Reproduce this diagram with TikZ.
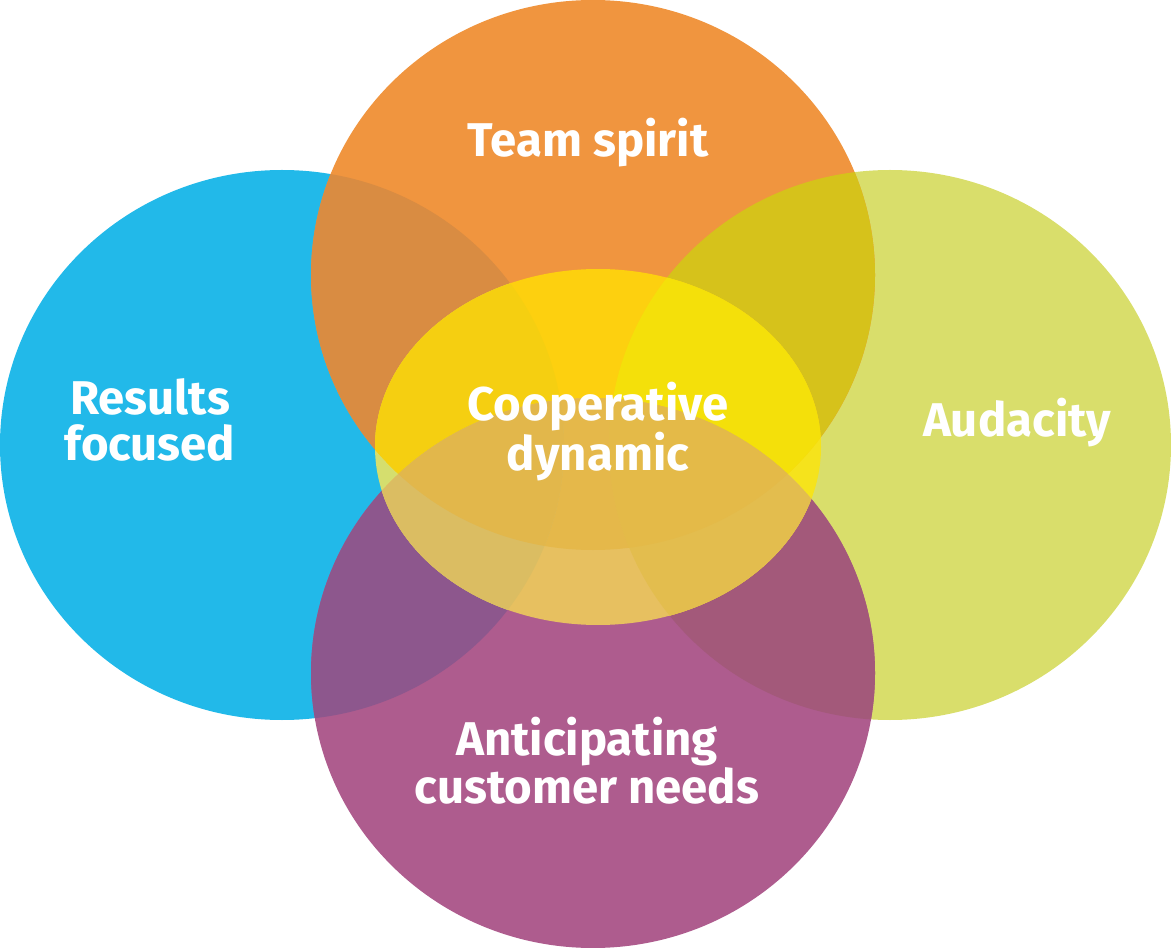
\documentclass[tikz,border=0pt]{standalone}
\usepackage{fontspec}
\setsansfont{Fira Sans}
\usepackage{xcolor}

\definecolor{resC}{HTML}{22B9E9}
\definecolor{teamC}{HTML}{F0953F}
\definecolor{audC}{HTML}{D9DE6B}
\definecolor{custC}{HTML}{AE5C8E}
\definecolor{resteamC}{HTML}{D98C42}
\definecolor{teamaudC}{HTML}{D6C21B}
\definecolor{rescustC}{HTML}{8D578D}
\definecolor{audcustC}{HTML}{A3597A}
\definecolor{coopresC}{HTML}{D5DE6E}
\definecolor{coopaudC}{HTML}{F5E31C}
\definecolor{coopteamC}{HTML}{FDD00F}
\definecolor{coopcustC}{HTML}{E7C060}
\definecolor{coopresteamC}{HTML}{F5CF11}
\definecolor{coopaudteamC}{HTML}{F4E00A}
\definecolor{coopteamcustC}{HTML}{E5B84A}
\definecolor{cooprescustC}{HTML}{DBBD62}
\definecolor{coopaudcustC}{HTML}{E3BD4E}
\definecolor{coopresallC}{HTML}{E2B74B}
\definecolor{coopaudallC}{HTML}{E4BA48}

\newcommand\resE{(282,445) ellipse [x radius=282, y radius=275]}
\newcommand\audE{(890,445) ellipse [x radius=281, y radius=275]}
\newcommand\teamE{(593,275) ellipse [x radius=282, y radius=275]}
\newcommand\custE{(593,673) ellipse [x radius=282, y radius=275]}
\newcommand\coopE{(598,447) ellipse [x radius=223, y radius=178]}

\begin{document}
\begin{tikzpicture}[x=0.75pt, y=-0.75pt,
	txt/.style={text=white, font=\sffamily\bfseries\fontsize{35.5}{34.5}\selectfont, align=center, inner sep=0pt}]
		\useasboundingbox (0,0) rectangle (1171,948);
		\fill[resC] \resE;
		\fill[audC] \audE;
		\fill[teamC] \teamE;
		\fill[custC] \custE;
		\begin{scope}
			\clip \resE;
			\fill[resteamC] \teamE;
			\fill[rescustC] \custE;
		\end{scope}
		\begin{scope}
			\clip \audE;
			\fill[teamaudC] \teamE;
			\fill[audcustC] \custE;
		\end{scope}
		\begin{scope}
			\clip \coopE;
			\fill[coopresC] \resE;
			\fill[coopaudC] \audE;
			\fill[coopteamC] \teamE;
			\fill[coopcustC] \custE;
			\begin{scope}
				\clip \teamE;
				\fill[coopresteamC] \resE;
				\fill[coopaudteamC] \audE;
				\fill[coopteamcustC] \custE;
			\end{scope}
			\begin{scope}
				\clip \custE;
				\fill[cooprescustC] \resE;
				\fill[coopaudcustC] \audE;
				\clip \teamE;
				\fill[coopresallC] \resE;
				\fill[coopaudallC] \audE;
			\end{scope}
		\end{scope}
		\node[txt, anchor=base] (team) at (588,157) {Team spirit};
		\node[txt, anchor=base] (aud) at (1017,436) {Audacity};
		\node[txt, anchor=north] (res) at (150,378) {Results\\focused};
		\node[txt, anchor=north] (coop) at (598,382) {Cooperative\\dynamic};
		\node[txt, anchor=north] (cust) at (587,717) {Anticipating\\customer needs};
\end{tikzpicture}
\end{document}
